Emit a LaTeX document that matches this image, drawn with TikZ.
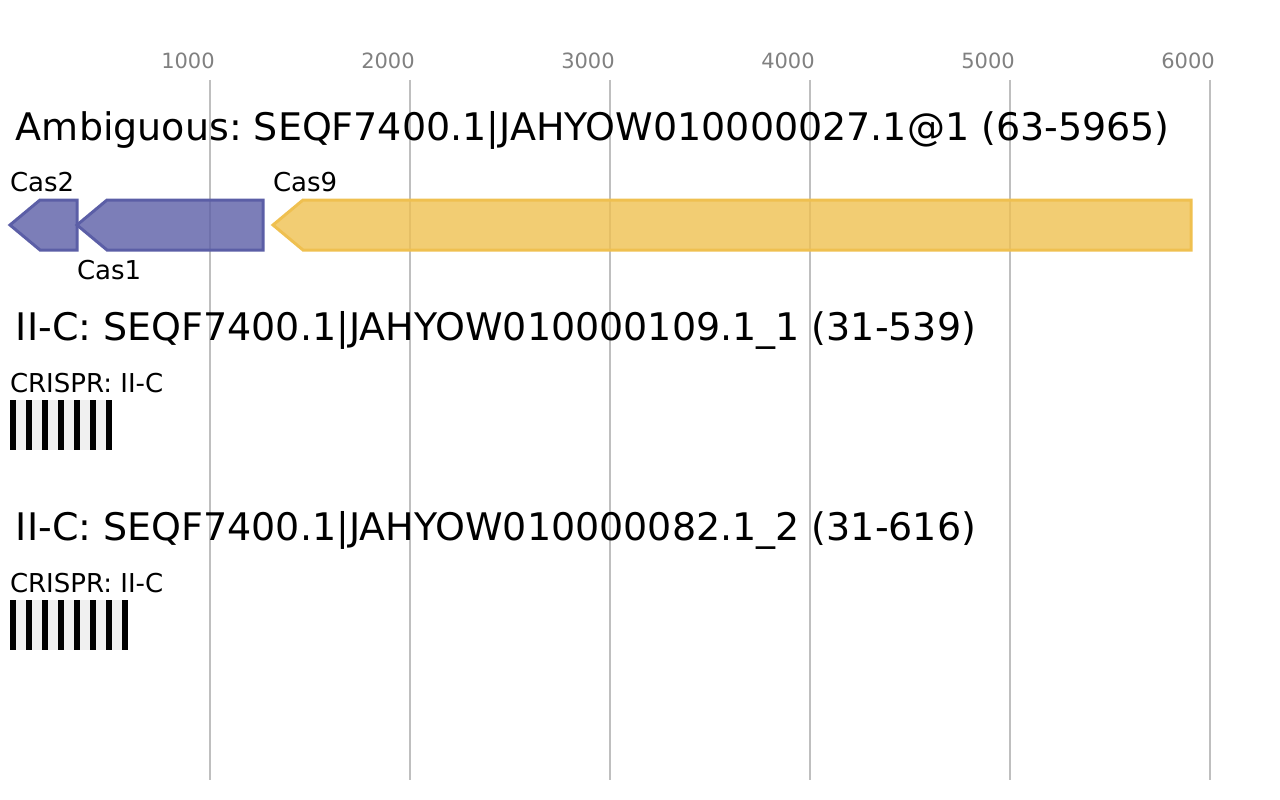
\documentclass[tikz,border=0pt]{standalone}
\usepackage{fontspec}
\setmainfont{DejaVu Sans}
\usepackage{tikz}
\usetikzlibrary{positioning}
\definecolor{casviolet}{HTML}{5B5EA6}
\definecolor{casgold}{HTML}{EFC050}
\definecolor{gridgray}{HTML}{BFBFBF}
\definecolor{tickgray}{HTML}{808080}
\definecolor{spacergray}{HTML}{F0F0F0}
\frenchspacing

\begin{document}
\begin{tikzpicture}[x=1pt, y=-1pt]
	\tikzstyle{every node} = [inner sep=0pt, outer sep=0pt]
	\tikzstyle{title} = [anchor=base west, font=\fontsize{38}{45}\selectfont]
	\tikzstyle{genelabel} = [anchor=base west, font=\fontsize{26}{31}\selectfont]
	\tikzstyle{ticklabel} = [anchor=base, text=tickgray, font=\fontsize{21}{25}\selectfont]
	\tikzstyle{gene} = [line width=3pt, line join=miter, fill opacity=0.8]
	\tikzstyle{repeatbar} = [fill=black, draw=none]
\useasboundingbox (0,0) rectangle (1280,800);
% axis
\foreach \k in {1,...,6}{
	\path[draw][gridgray, line width=2pt] (10+200*\k, 80) -- (10+200*\k, 780);
	\node[ticklabel] (tick\k) at (-12+200*\k, 69) {\k000};
}
% locus 1
\node[title] (locus1) at (16, 140) {Ambiguous: SEQF7400.1|JAHYOW010000027.1@1 (63-5965)};
\path[draw][casviolet, fill=casviolet, gene] (10,225) -- (40,200) -- (77,200) -- (77,250) -- (40,250) -- cycle;
\path[draw][casviolet, fill=casviolet, gene] (77,225) -- (107,200) -- (263,200) -- (263,250) -- (107,250) -- cycle;
\path[draw][casgold, fill=casgold, gene] (273,225) -- (303,200) -- (1191,200) -- (1191,250) -- (303,250) -- cycle;
\node[genelabel] (cas2) at (10, 191.5) {Cas2};
\node[genelabel] (cas1) at (77, 279) {Cas1};
\node[genelabel] (cas9) at (273, 191.5) {Cas9};
% locus 2
\node[title] (locus2) at (16, 340) {II-C: SEQF7400.1|JAHYOW010000109.1\_1 (31-539)};
\node[genelabel] (crispr1) at (10, 392) {CRISPR: II-C};
\path[fill=spacergray] (10,400) rectangle (112,450);
\foreach \i in {0,...,6}{
	\path[repeatbar] (10+16*\i, 400) rectangle (16+16*\i, 450);
}
% locus 3
\node[title] (locus3) at (16, 540) {II-C: SEQF7400.1|JAHYOW010000082.1\_2 (31-616)};
\node[genelabel] (crispr2) at (10, 592) {CRISPR: II-C};
\path[fill=spacergray] (10,600) rectangle (128,650);
\foreach \i in {0,...,7}{
	\path[repeatbar] (10+16*\i, 600) rectangle (16+16*\i, 650);
}
\end{tikzpicture}
\end{document}
